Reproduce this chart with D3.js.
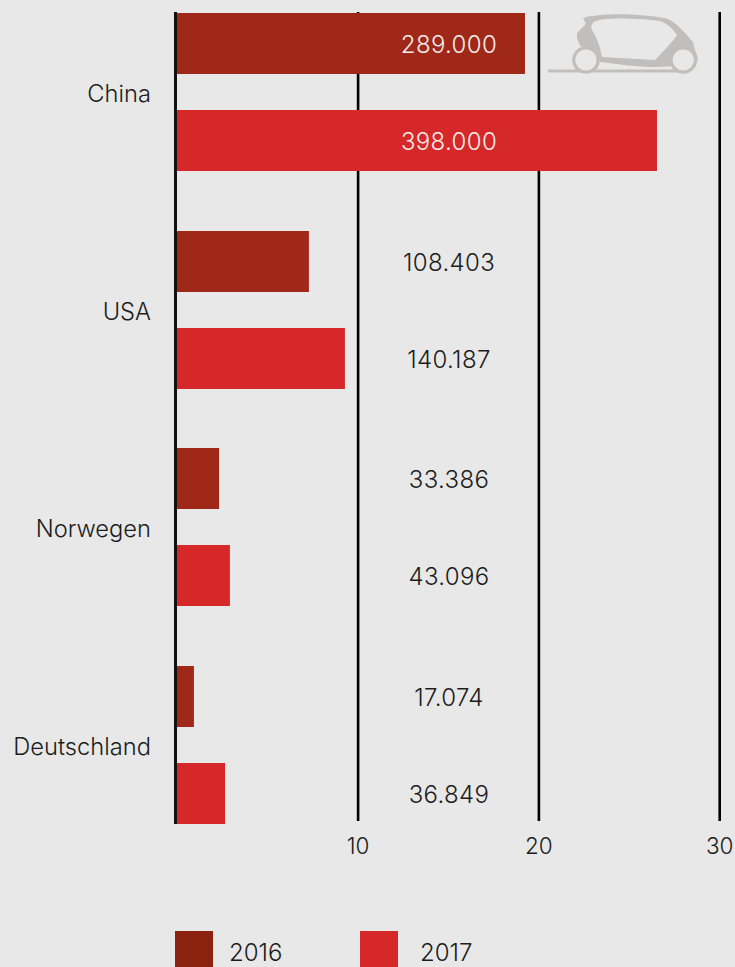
<!DOCTYPE html>
<html><head><meta charset="utf-8">
<script src="https://cdn.jsdelivr.net/npm/d3@7"></script>
<style>html,body{margin:0;padding:0;background:#e8e8e8;overflow:hidden}svg{display:block}text{font-family:"Inter","Lato",sans-serif;font-weight:300;fill:#1c1c1c}</style>
</head><body><svg id="c" width="735" height="967"></svg>
<script>
const categories=["China","USA","Norwegen","Deutschland"];
const years=["2016","2017"];
const values2016=[19.23,7.28,2.31,0.92];
const values2017=[26.53,9.27,2.91,2.64];
const labels2016=["289.000","108.403","33.386","17.074"];
const labels2017=["398.000","140.187","43.096","36.849"];
const ticks=[10,20,30];
const colors=["#9f2818","#d62828"];
const svg=d3.select("#c");
const x=d3.scaleLinear().domain([0,30]).range([177.3,719.7]);
const step=217.67,barH=61,gap=36;
const yBar=(c,i)=>Math.round(13+categories.indexOf(c)*step)+i*(barH+gap);
ticks.forEach(t=>{
 svg.append("line").attr("x1",x(t)).attr("x2",x(t)).attr("y1",12).attr("y2",821).attr("stroke","#000").attr("stroke-width",2.6);
 svg.append("text").attr("x",x(t)).attr("y",854).attr("text-anchor","middle").attr("font-size",22.5).text(t);
});
[values2016,values2017].forEach((vals,i)=>{
 svg.selectAll(null).data(categories).enter().append("rect")
  .attr("x",x(0)-1).attr("y",c=>yBar(c,i)).attr("width",(c,k)=>x(vals[k])-x(0)+1).attr("height",barH).attr("fill",colors[i]);
});
svg.append("line").attr("x1",175.5).attr("x2",175.5).attr("y1",12).attr("y2",824).attr("stroke","#111").attr("stroke-width",3);
[labels2016,labels2017].forEach((labs,i)=>{
 svg.selectAll(null).data(categories).enter().append("text")
  .attr("x",449).attr("y",c=>yBar(c,i)+40).attr("text-anchor","middle").attr("font-size",24).attr("letter-spacing",0.35)
  .style("fill",(c,k)=>k===0?"#f4ecea":"#1c1c1c").text((c,k)=>labs[k]);
});
svg.selectAll(null).data(categories).enter().append("text").attr("x",151).attr("y",(c,k)=>102+k*217.5).attr("text-anchor","end").attr("font-size",23.7).text(c=>c);
[175,360].forEach((lx,i)=>{
 svg.append("rect").attr("x",lx).attr("y",931).attr("width",38).attr("height",36).attr("fill",i?"#d62828":"#8b2310");
 svg.append("text").attr("x",lx+(i?60:54)).attr("y",961).attr("font-size",24).text(years[i]);
});
const car=svg.append("g").attr("fill","#c0bfbd");
car.append("rect").attr("x",548).attr("y",69.5).attr("width",130).attr("height",3);
car.append("path").attr("fill-rule","evenodd").attr("d","M583 18C600 13 640 13 668 19C678 24 686 34 693 42L695 50L698 58L697 63L670 66C650 69 625 65 600 62L596 50L580 46L577 38L577 33L586 24ZM592 30C594 34 599 40 602 57L655 60C664 50 672 43 677 35C672 28 668 24 660 21C640 18 600 17 594 22C591 24 591 27 592 30Z");
[586,683.3].forEach(cx=>car.append("circle").attr("cx",cx).attr("cy",60).attr("r",12.2).attr("fill","#e8e8e8").attr("stroke","#c0bfbd").attr("stroke-width",3.2));
</script></body></html>
